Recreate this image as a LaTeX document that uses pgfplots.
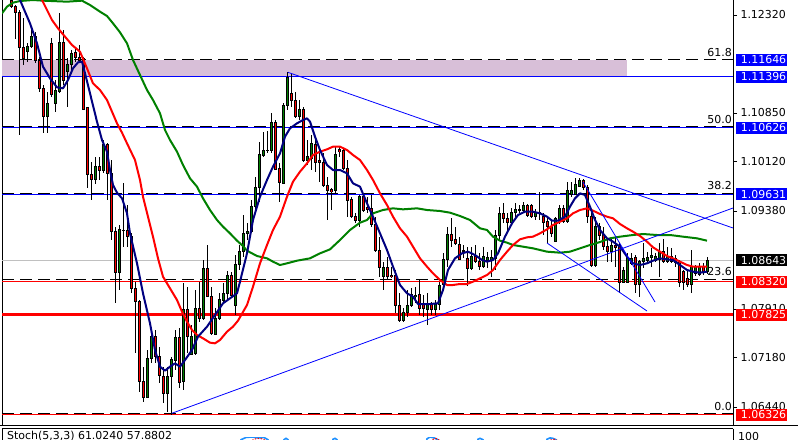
\documentclass[border=0pt]{standalone}
\usepackage{fontspec}
\setmainfont{DejaVu Sans}
\usepackage{pgfplots}
\usepackage{pgfplotstable}
\pgfplotsset{compat=1.18}

\definecolor{mtnavy}{RGB}{0,0,128}
\definecolor{mtgreen}{RGB}{0,128,0}
\definecolor{mtred}{RGB}{255,0,0}
\definecolor{mtblue}{RGB}{0,0,255}
\definecolor{stochblue}{RGB}{30,144,255}
\definecolor{zone}{RGB}{216,191,216}
\definecolor{pricegray}{RGB}{192,192,192}

\newcommand{\mtfont}{\fontsize{11}{12}\selectfont}

% daily candles, open high low close
\pgfplotstableread{
i o h l c
0 1.12545 1.12620 1.12435 1.12445
1 1.12445 1.12470 1.11955 1.12355
2 1.12365 1.12395 1.10520 1.11830
3 1.11835 1.12270 1.11570 1.11670
4 1.11770 1.11895 1.11620 1.11845
5 1.11845 1.12105 1.11820 1.12005
6 1.12005 1.12070 1.11595 1.11645
7 1.11645 1.11695 1.11170 1.11220
8 1.11220 1.11270 1.10545 1.10795
9 1.10795 1.11170 1.10555 1.10995
10 1.11895 1.11970 1.11095 1.11130
11 1.10995 1.11345 1.10870 1.11185
12 1.11170 1.12345 1.11155 1.11910
13 1.11910 1.12095 1.11270 1.11345
14 1.11470 1.11670 1.10945 1.11580
15 1.11580 1.11795 1.11485 1.11745
16 1.11760 1.11820 1.11620 1.11685
17 1.11685 1.11870 1.11595 1.11645
18 1.11670 1.11695 1.10895 1.10910
19 1.10930 1.10945 1.09720 1.09930
20 1.09935 1.10120 1.09545 1.09860
21 1.09860 1.10195 1.09785 1.10055
22 1.10045 1.10195 1.09845 1.09985
23 1.09985 1.10445 1.09945 1.10385
24 1.10385 1.10405 1.09545 1.09945
25 1.09945 1.10145 1.08945 1.09080
26 1.09080 1.09145 1.07995 1.08455
27 1.08455 1.09170 1.08195 1.09105
28 1.09095 1.09805 1.08845 1.09085
29 1.09085 1.09470 1.08845 1.09005
30 1.09005 1.09045 1.08145 1.08220
31 1.08220 1.08320 1.07245 1.08020
32 1.08020 1.08045 1.06670 1.06820
33 1.06820 1.07045 1.06520 1.06585
34 1.06585 1.07295 1.06570 1.07170
35 1.07170 1.07595 1.07095 1.07495
36 1.07495 1.07595 1.07095 1.07195
37 1.07195 1.07345 1.06795 1.06920
38 1.06905 1.07045 1.06495 1.06645
39 1.06645 1.07045 1.06370 1.06905
40 1.06905 1.07195 1.06326 1.07155
41 1.07145 1.07595 1.06995 1.07485
42 1.07485 1.07620 1.06720 1.06805
43 1.06820 1.08295 1.06695 1.07905
44 1.07905 1.08245 1.07245 1.07495
45 1.07235 1.07670 1.07220 1.07505
46 1.07235 1.08195 1.07220 1.07920
47 1.07920 1.08320 1.07720 1.07770
48 1.07770 1.08645 1.07745 1.08520
49 1.08520 1.08870 1.08085 1.08105
50 1.08105 1.08245 1.07520 1.07545
51 1.07530 1.07920 1.07520 1.07770
52 1.07770 1.08145 1.07745 1.08055
53 1.08045 1.08295 1.07995 1.08145
54 1.08145 1.08485 1.08045 1.08420
55 1.08420 1.08470 1.08095 1.08120
56 1.07970 1.08720 1.07820 1.08580
57 1.08580 1.08870 1.08495 1.08770
58 1.08770 1.09320 1.08695 1.09045
59 1.09045 1.09205 1.08945 1.09080
60 1.09070 1.09545 1.09045 1.09455
61 1.09455 1.09895 1.09385 1.09735
62 1.09735 1.10420 1.09520 1.10235
63 1.10220 1.10570 1.10195 1.10295
64 1.10285 1.10585 1.10245 1.10295
65 1.10285 1.10845 1.10245 1.10710
66 1.10710 1.10745 1.09995 1.10010
67 1.10010 1.10095 1.09510 1.09805
68 1.09795 1.10995 1.09785 1.10970
69 1.10970 1.11460 1.10895 1.11385
70 1.11145 1.11445 1.10945 1.11045
71 1.11045 1.11170 1.10770 1.10795
72 1.10795 1.11045 1.10745 1.10905
73 1.10905 1.10945 1.10120 1.10135
74 1.10145 1.10445 1.10070 1.10195
75 1.10170 1.10520 1.09995 1.10395
76 1.10385 1.10445 1.09970 1.10110
77 1.10145 1.10270 1.09820 1.10105
78 1.10110 1.10245 1.09745 1.09770
79 1.09770 1.09895 1.09245 1.09695
80 1.09705 1.09720 1.09395 1.09670
81 1.09685 1.10345 1.09645 1.10230
82 1.10305 1.10345 1.10195 1.10270
83 1.10295 1.10330 1.09995 1.10020
84 1.10020 1.10145 1.09295 1.09545
85 1.09560 1.09595 1.09270 1.09295
86 1.09295 1.09345 1.09195 1.09245
87 1.09245 1.09620 1.09145 1.09595
88 1.09595 1.09620 1.09370 1.09395
89 1.09435 1.09595 1.09345 1.09405
90 1.09420 1.09620 1.09145 1.09185
91 1.09185 1.09295 1.08770 1.08785
92 1.08785 1.08995 1.08395 1.08535
93 1.08395 1.08620 1.08195 1.08535
94 1.08535 1.08695 1.08345 1.08395
95 1.08420 1.08545 1.08370 1.08395
96 1.08420 1.08495 1.07845 1.07970
97 1.07970 1.08145 1.07720 1.07735
98 1.07735 1.07920 1.07720 1.07855
99 1.07855 1.08195 1.07795 1.07970
100 1.07970 1.08220 1.07945 1.08135
101 1.08095 1.08235 1.07995 1.08120
102 1.08135 1.08345 1.07820 1.07920
103 1.07995 1.08120 1.07795 1.07920
104 1.07905 1.08145 1.07670 1.07995
105 1.07995 1.08020 1.07820 1.07905
106 1.07905 1.08045 1.07820 1.07985
107 1.07985 1.08320 1.07895 1.08270
108 1.08270 1.08745 1.08245 1.08655
109 1.08655 1.09145 1.08545 1.09035
110 1.09035 1.09270 1.08845 1.08945
111 1.08955 1.09145 1.08870 1.08895
112 1.08885 1.08995 1.08645 1.08655
113 1.08770 1.08870 1.08670 1.08785
114 1.08670 1.08845 1.08255 1.08520
115 1.08520 1.08845 1.08495 1.08695
116 1.08705 1.08870 1.08595 1.08620
117 1.08620 1.08745 1.08495 1.08545
118 1.08545 1.08845 1.08520 1.08695
119 1.08635 1.08770 1.08520 1.08685
120 1.08645 1.08795 1.08385 1.08685
121 1.08670 1.09095 1.08495 1.09020
122 1.09020 1.09445 1.08945 1.09345
123 1.09345 1.09495 1.09195 1.09270
124 1.09270 1.09345 1.09045 1.09205
125 1.09205 1.09420 1.09185 1.09355
126 1.09355 1.09495 1.09270 1.09405
127 1.09395 1.09470 1.09345 1.09405
128 1.09395 1.09520 1.09345 1.09470
129 1.09470 1.09485 1.09285 1.09320
130 1.09470 1.09485 1.09270 1.09295
131 1.09295 1.09405 1.09245 1.09355
132 1.09355 1.09670 1.09245 1.09360
133 1.09295 1.09345 1.09020 1.09205
134 1.09220 1.09270 1.08905 1.09145
135 1.09145 1.09245 1.08995 1.09045
136 1.08920 1.09295 1.08920 1.09270
137 1.09245 1.09470 1.09185 1.09420
138 1.09420 1.09470 1.09205 1.09220
139 1.09220 1.09820 1.09205 1.09685
140 1.09635 1.09820 1.09595 1.09695
141 1.09635 1.09870 1.09620 1.09785
142 1.09755 1.09870 1.09735 1.09845
143 1.09835 1.09855 1.09695 1.09735
144 1.09735 1.09770 1.09195 1.09305
145 1.09305 1.09345 1.08545 1.08570
146 1.08570 1.09295 1.08545 1.09155
147 1.09155 1.09195 1.08945 1.09020
148 1.09035 1.09145 1.08795 1.08845
149 1.08855 1.08945 1.08620 1.08770
150 1.08770 1.08985 1.08620 1.08870
151 1.08870 1.08985 1.08545 1.08835
152 1.08870 1.08895 1.08145 1.08305
153 1.08305 1.08545 1.08295 1.08485
154 1.08305 1.08745 1.08295 1.08685
155 1.08595 1.08755 1.08570 1.08670
156 1.08685 1.08720 1.08145 1.08285
157 1.08285 1.08645 1.08095 1.08620
158 1.08620 1.08895 1.08520 1.08670
159 1.08645 1.08770 1.08595 1.08685
160 1.08685 1.08820 1.08545 1.08715
161 1.08645 1.08755 1.08620 1.08705
162 1.08655 1.08895 1.08395 1.08770
163 1.08770 1.08955 1.08595 1.08620
164 1.08620 1.08845 1.08595 1.08695
165 1.08705 1.08820 1.08595 1.08620
166 1.08670 1.08720 1.08545 1.08605
167 1.08620 1.08645 1.08245 1.08305
168 1.08470 1.08495 1.08195 1.08305
169 1.08370 1.08485 1.08245 1.08285
170 1.08285 1.08795 1.08145 1.08545
171 1.08445 1.08570 1.08405 1.08545
172 1.08435 1.08595 1.08405 1.08545
173 1.08545 1.08595 1.08420 1.08470
174 1.08470 1.08685 1.08435 1.08643
}\candles

\begin{document}
\begin{tikzpicture}
\useasboundingbox (0,-440bp) rectangle (798bp,0);
\begin{axis}[
  at={(2bp,-425bp)}, anchor=south west,
  scale only axis, width=731bp, height=425bp,
  xmin=2, xmax=733, ymin=1.06170, ymax=1.12545,
  clip mode=individual,
  separate axis lines,
  x axis line style={draw=none},
  y axis line style={black, line width=1bp},
  xtick=\empty,
  ytick={1.06440,1.07180,1.07910,1.09380,1.10120,1.10850,1.12320},
  ytick pos=right,
  tick align=outside,
  major tick length=4bp,
  tick style={black, line width=0.8bp},
  /pgf/number format/assume math mode=true,
  yticklabel style={font=\mtfont, /pgf/number format/fixed, /pgf/number format/fixed zerofill, /pgf/number format/precision=5},
]
% resistance zone
\fill[zone] (axis cs:2,1.11396) rectangle (axis cs:627,1.11646);

% horizontal levels
\addplot[pricegray, line width=1bp, forget plot] coordinates {(2,1.08643) (733,1.08643)};
\addplot[mtblue, line width=1bp, forget plot] coordinates {(2,1.11396) (733,1.11396)};
\addplot[mtblue, line width=1bp, forget plot] coordinates {(2,1.10626) (733,1.10626)};
\addplot[mtblue, line width=1bp, forget plot] coordinates {(2,1.09631) (733,1.09631)};
\addplot[mtred, line width=1bp, forget plot] coordinates {(2,1.08320) (733,1.08320)};
\addplot[mtred, line width=3bp, forget plot] coordinates {(2,1.07825) (733,1.07825)};
\addplot[mtred, line width=1bp, forget plot] coordinates {(2,1.06321) (733,1.06321)};
% fibonacci levels
\addplot[black, line width=1bp, dash pattern=on 12bp off 6bp, forget plot] coordinates {(2,1.11646) (733,1.11646)};
\addplot[black, line width=1bp, dash pattern=on 12bp off 6bp, forget plot] coordinates {(2,1.10642) (733,1.10642)};
\addplot[black, line width=1bp, dash pattern=on 12bp off 6bp, forget plot] coordinates {(2,1.09647) (733,1.09647)};
\addplot[black, line width=1bp, dash pattern=on 12bp off 6bp, forget plot] coordinates {(2,1.08357) (733,1.08357)};
\addplot[black, line width=1bp, dash pattern=on 12bp off 6bp, forget plot] coordinates {(2,1.06336) (733,1.06336)};
\node[font=\mtfont, anchor=south east, inner sep=0pt] at (axis cs:732,1.11691) {61.8};
\node[font=\mtfont, anchor=south east, inner sep=0pt] at (axis cs:732,1.10687) {50.0};
\node[font=\mtfont, anchor=south east, inner sep=0pt] at (axis cs:732,1.09692) {38.2};
\node[font=\mtfont, anchor=south east, inner sep=0pt] at (axis cs:732,1.08402) {23.6};
\node[font=\mtfont, anchor=south east, inner sep=0pt] at (axis cs:732,1.06381) {0.0};

% candles: wicks, body outline, body fill
\addplot[draw=none, mark=none, forget plot,
  error bars/.cd, y dir=both, y explicit, error mark=none,
  error bar style={draw=black, line width=1bp}]
  table[x expr=11.3+4*\thisrow{i}, y=c,
        y error plus expr=\thisrow{h}-\thisrow{c},
        y error minus expr=\thisrow{c}-\thisrow{l}] {\candles};
\addplot[draw=none, mark=none, forget plot,
  error bars/.cd, y dir=both, y explicit, error mark=none,
  error bar style={draw=black, line width=3.2bp}]
  table[x expr=11.3+4*\thisrow{i}, y expr=(\thisrow{o}+\thisrow{c})/2,
        y error expr=abs(\thisrow{o}-\thisrow{c})/2+0.000075] {\candles};
\addplot[draw=none, mark=none, forget plot,
  restrict expr to domain={\thisrow{c}-\thisrow{o}}{0:1},
  error bars/.cd, y dir=both, y explicit, error mark=none,
  error bar style={draw=mtgreen, line width=1.4bp}]
  table[x expr=11.3+4*\thisrow{i}, y expr=(\thisrow{o}+\thisrow{c})/2,
        y error expr={max(abs(\thisrow{o}-\thisrow{c})/2-0.000075,0)}] {\candles};
\addplot[draw=none, mark=none, forget plot,
  restrict expr to domain={\thisrow{c}-\thisrow{o}}{-1:0},
  error bars/.cd, y dir=both, y explicit, error mark=none,
  error bar style={draw=mtred, line width=1.4bp}]
  table[x expr=11.3+4*\thisrow{i}, y expr=(\thisrow{o}+\thisrow{c})/2,
        y error expr={max(abs(\thisrow{o}-\thisrow{c})/2-0.000075,0)}] {\candles};

% slow moving average
\addplot[mtgreen, line width=2bp, line join=round] coordinates {
(2,1.12345) (7,1.12445) (13,1.12505) (20,1.12530) (33,1.12545) (43,1.12535) (67,1.12520)
(82,1.12535) (90,1.12470) (100,1.12370) (107,1.12305) (113,1.12195) (120,1.12060)
(127,1.11895) (133,1.11645) (140,1.11420) (147,1.11195) (153,1.11045) (160,1.10845)
(165,1.10595) (170,1.10445) (177,1.10270) (183,1.10070) (190,1.09870) (197,1.09745)
(203,1.09570) (210,1.09395) (217,1.09245) (223,1.09145) (230,1.09045) (237,1.08935)
(243,1.08855) (247,1.08785) (257,1.08705) (267,1.08670) (273,1.08620) (280,1.08570)
(287,1.08595) (297,1.08635) (310,1.08670) (320,1.08745) (330,1.08805) (340,1.08945)
(350,1.09095) (360,1.09205) (367,1.09245) (373,1.09345) (383,1.09395) (393,1.09420)
(403,1.09405) (417,1.09420) (427,1.09395) (440,1.09380) (450,1.09355) (460,1.09305)
(470,1.09245) (480,1.09120) (487,1.09095) (493,1.08995) (500,1.08935) (507,1.08905)
(513,1.08870) (523,1.08845) (533,1.08820) (547,1.08770) (560,1.08755) (570,1.08770)
(580,1.08820) (590,1.08870) (600,1.08915) (610,1.08970) (620,1.08995) (633,1.09020)
(643,1.09035) (657,1.09020) (670,1.09020) (683,1.08995) (697,1.08970) (707,1.08935)
};
% medium moving average
\addplot[mtred, line width=2bp, line join=round] coordinates {
(42,1.12545) (47,1.12395) (52,1.12245) (58,1.12120) (65,1.11995) (72,1.11870) (80,1.11770)
(87,1.11520) (93,1.11295) (100,1.11195) (107,1.11045) (112,1.10870) (117,1.10695)
(122,1.10555) (127,1.10395) (135,1.10145) (140,1.09845) (143,1.09595) (148,1.09295)
(153,1.08995) (158,1.08670) (163,1.08395) (170,1.08220) (177,1.08045) (182,1.07870)
(187,1.07720) (192,1.07595) (197,1.07520) (203,1.07470) (210,1.07405) (215,1.07395)
(220,1.07445) (227,1.07570) (233,1.07645) (238,1.07735) (247,1.07970) (253,1.08245)
(260,1.08595) (267,1.08870) (273,1.09095) (280,1.09295) (287,1.09595) (293,1.09820)
(300,1.09970) (307,1.10095) (313,1.10220) (320,1.10270) (327,1.10305) (333,1.10345)
(340,1.10345) (347,1.10295) (353,1.10220) (360,1.10145) (367,1.09995) (373,1.09845)
(380,1.09645) (387,1.09470) (393,1.09295) (400,1.09120) (407,1.08995) (413,1.08845)
(420,1.08670) (427,1.08545) (433,1.08445) (440,1.08345) (447,1.08270) (453,1.08270)
(460,1.08285) (467,1.08285) (473,1.08320) (480,1.08370) (487,1.08420) (493,1.08495)
(500,1.08645) (507,1.08770) (513,1.08870) (520,1.08955) (527,1.08985) (533,1.08995)
(540,1.09045) (547,1.09105) (553,1.09170) (560,1.09220) (567,1.09270) (573,1.09345)
(580,1.09395) (587,1.09420) (593,1.09385) (600,1.09335) (607,1.09295) (613,1.09270)
(620,1.09185) (627,1.09120) (633,1.09070) (640,1.09005) (647,1.08920) (653,1.08835)
(660,1.08770) (667,1.08705) (673,1.08670) (680,1.08620) (687,1.08570) (693,1.08545)
(700,1.08545) (707,1.08545)
};
% fast moving average
\addplot[mtnavy, line width=2bp, line join=round] coordinates {
(20,1.12545) (30,1.12195) (37,1.11895) (43,1.11545) (50,1.11370) (57,1.11235) (63,1.11220)
(68,1.11345) (73,1.11520) (78,1.11610) (82,1.11620) (85,1.11445) (90,1.11145) (97,1.10720)
(102,1.10445) (107,1.10270) (110,1.09995) (113,1.09770) (117,1.09655) (122,1.09570)
(127,1.09345) (130,1.09045) (137,1.08595) (143,1.08145) (150,1.07695) (155,1.07295)
(160,1.07045) (165,1.06985) (170,1.07045) (175,1.07095) (180,1.07045) (185,1.07145)
(192,1.07295) (198,1.07495) (207,1.07645) (215,1.07820) (223,1.07995) (230,1.08070)
(237,1.08145) (240,1.08320) (247,1.08745) (253,1.09245) (260,1.09595) (267,1.09845)
(273,1.10045) (280,1.10245) (285,1.10495) (290,1.10620) (297,1.10695) (303,1.10745)
(307,1.10770) (310,1.10720) (315,1.10495) (320,1.10295) (327,1.10070) (333,1.09995)
(340,1.09995) (347,1.09945) (353,1.09795) (360,1.09745) (367,1.09495) (373,1.09295)
(380,1.09045) (387,1.08795) (393,1.08545) (400,1.08270) (407,1.08145) (413,1.08095)
(418,1.07985) (430,1.07985) (438,1.07995) (443,1.08195) (448,1.08495) (455,1.08670)
(462,1.08745) (468,1.08770) (475,1.08720) (482,1.08645) (487,1.08620) (493,1.08645)
(498,1.08745) (505,1.08995) (512,1.09195) (518,1.09320) (525,1.09370) (533,1.09370)
(540,1.09345) (547,1.09295) (552,1.09235) (558,1.09235) (565,1.09295) (570,1.09445)
(575,1.09570) (580,1.09645) (585,1.09620) (590,1.09445) (595,1.09245) (600,1.09095)
(607,1.08970) (613,1.08920) (620,1.08845) (627,1.08695) (633,1.08595) (640,1.08570)
(647,1.08595) (653,1.08635) (660,1.08670) (667,1.08655) (673,1.08645) (680,1.08570)
(687,1.08495) (693,1.08470) (700,1.08455) (707,1.08470)
};

% trend lines
\addplot[mtblue, line width=0.8bp] coordinates {(288,1.11460) (733,1.09125)};
\addplot[mtblue, line width=0.8bp] coordinates {(171.7,1.06345) (733,1.09425)};
\addplot[mtblue, line width=0.8bp] coordinates {(583,1.09815) (655,1.08015)};
\addplot[mtblue, line width=0.8bp] coordinates {(547,1.08900) (647,1.07880)};

\coordinate (pa) at (axis cs:733,1.11646);
\coordinate (pb) at (axis cs:733,1.11396);
\coordinate (pc) at (axis cs:733,1.10626);
\coordinate (pd) at (axis cs:733,1.09631);
\coordinate (pe) at (axis cs:733,1.08643);
\coordinate (pf) at (axis cs:733,1.08320);
\coordinate (pg) at (axis cs:733,1.07825);
\coordinate (ph) at (axis cs:733,1.06326);
\end{axis}

% stochastic sub-window: only the tops of its peaks are in view
\begin{axis}[
  at={(2bp,-527bp)}, anchor=south west,
  scale only axis, width=731bp, height=90bp,
  xmin=2, xmax=733, ymin=0, ymax=100,
  hide axis,
]
\addplot[stochblue, line width=1.6bp] coordinates {
(236,80) (241,97) (246,99.5) (252,100) (258,99) (264,99.5) (268,97) (272,80)
(281,80) (284,97) (286,98.5) (288,97) (291,80)
(330,80) (333,97.5) (335,98.5) (337,97) (340,80)
(424,80) (427,98) (430,100) (434,99) (438,97) (442,80)
(475,80) (478,97.5) (480,98.5) (483,97) (486,80)
(544,80) (547,97.5) (550,99) (553,98.5) (556,97) (560,80)
};
\addplot[mtred, line width=1bp, dash pattern=on 1.5bp off 1.5bp] coordinates {
(248,80) (253,97) (257,98.5) (262,98) (266,96) (270,80)
(428,80) (432,97) (436,98.5) (440,96) (444,80)
(546,80) (550,96.5) (554,97.5) (558,96) (562,80)
};
\end{axis}

\tikzset{pbox/.style={anchor=west, xshift=3bp, inner xsep=1bp, inner ysep=0pt,
  minimum height=12bp, text width=49bp, align=right, text=white, font=\mtfont}}
\node[pbox, fill=mtblue] at (pa) {1.11646};
\node[pbox, fill=mtblue] at (pb) {1.11396};
\node[pbox, fill=mtblue] at (pc) {1.10626};
\node[pbox, fill=mtblue] at (pd) {1.09631};
\node[pbox, fill=black] at (pe) {1.08643};
\node[pbox, fill=mtred] at (pf) {1.08320};
\node[pbox, fill=mtred] at (pg) {1.07825};
\node[pbox, fill=mtred] at (ph) {1.06326};

% indicator sub-window header
\draw[black, line width=1bp] (0,-425.5bp) -- (798bp,-425.5bp);
\draw[black, line width=1bp] (2bp,-428.5bp) -- (733bp,-428.5bp);
\draw[black, line width=1bp] (2bp,-428.5bp) -- (2bp,-441bp);
\draw[black, line width=1bp] (733bp,-428.5bp) -- (733bp,-441bp);
\node[font=\mtfont, anchor=north west, inner sep=0pt] at (7bp,-431bp) {Stoch(5,3,3) 61.0240 57.8802};
\node[font=\mtfont, anchor=north west, inner sep=0pt] at (738bp,-432bp) {100};
\end{tikzpicture}
\end{document}
